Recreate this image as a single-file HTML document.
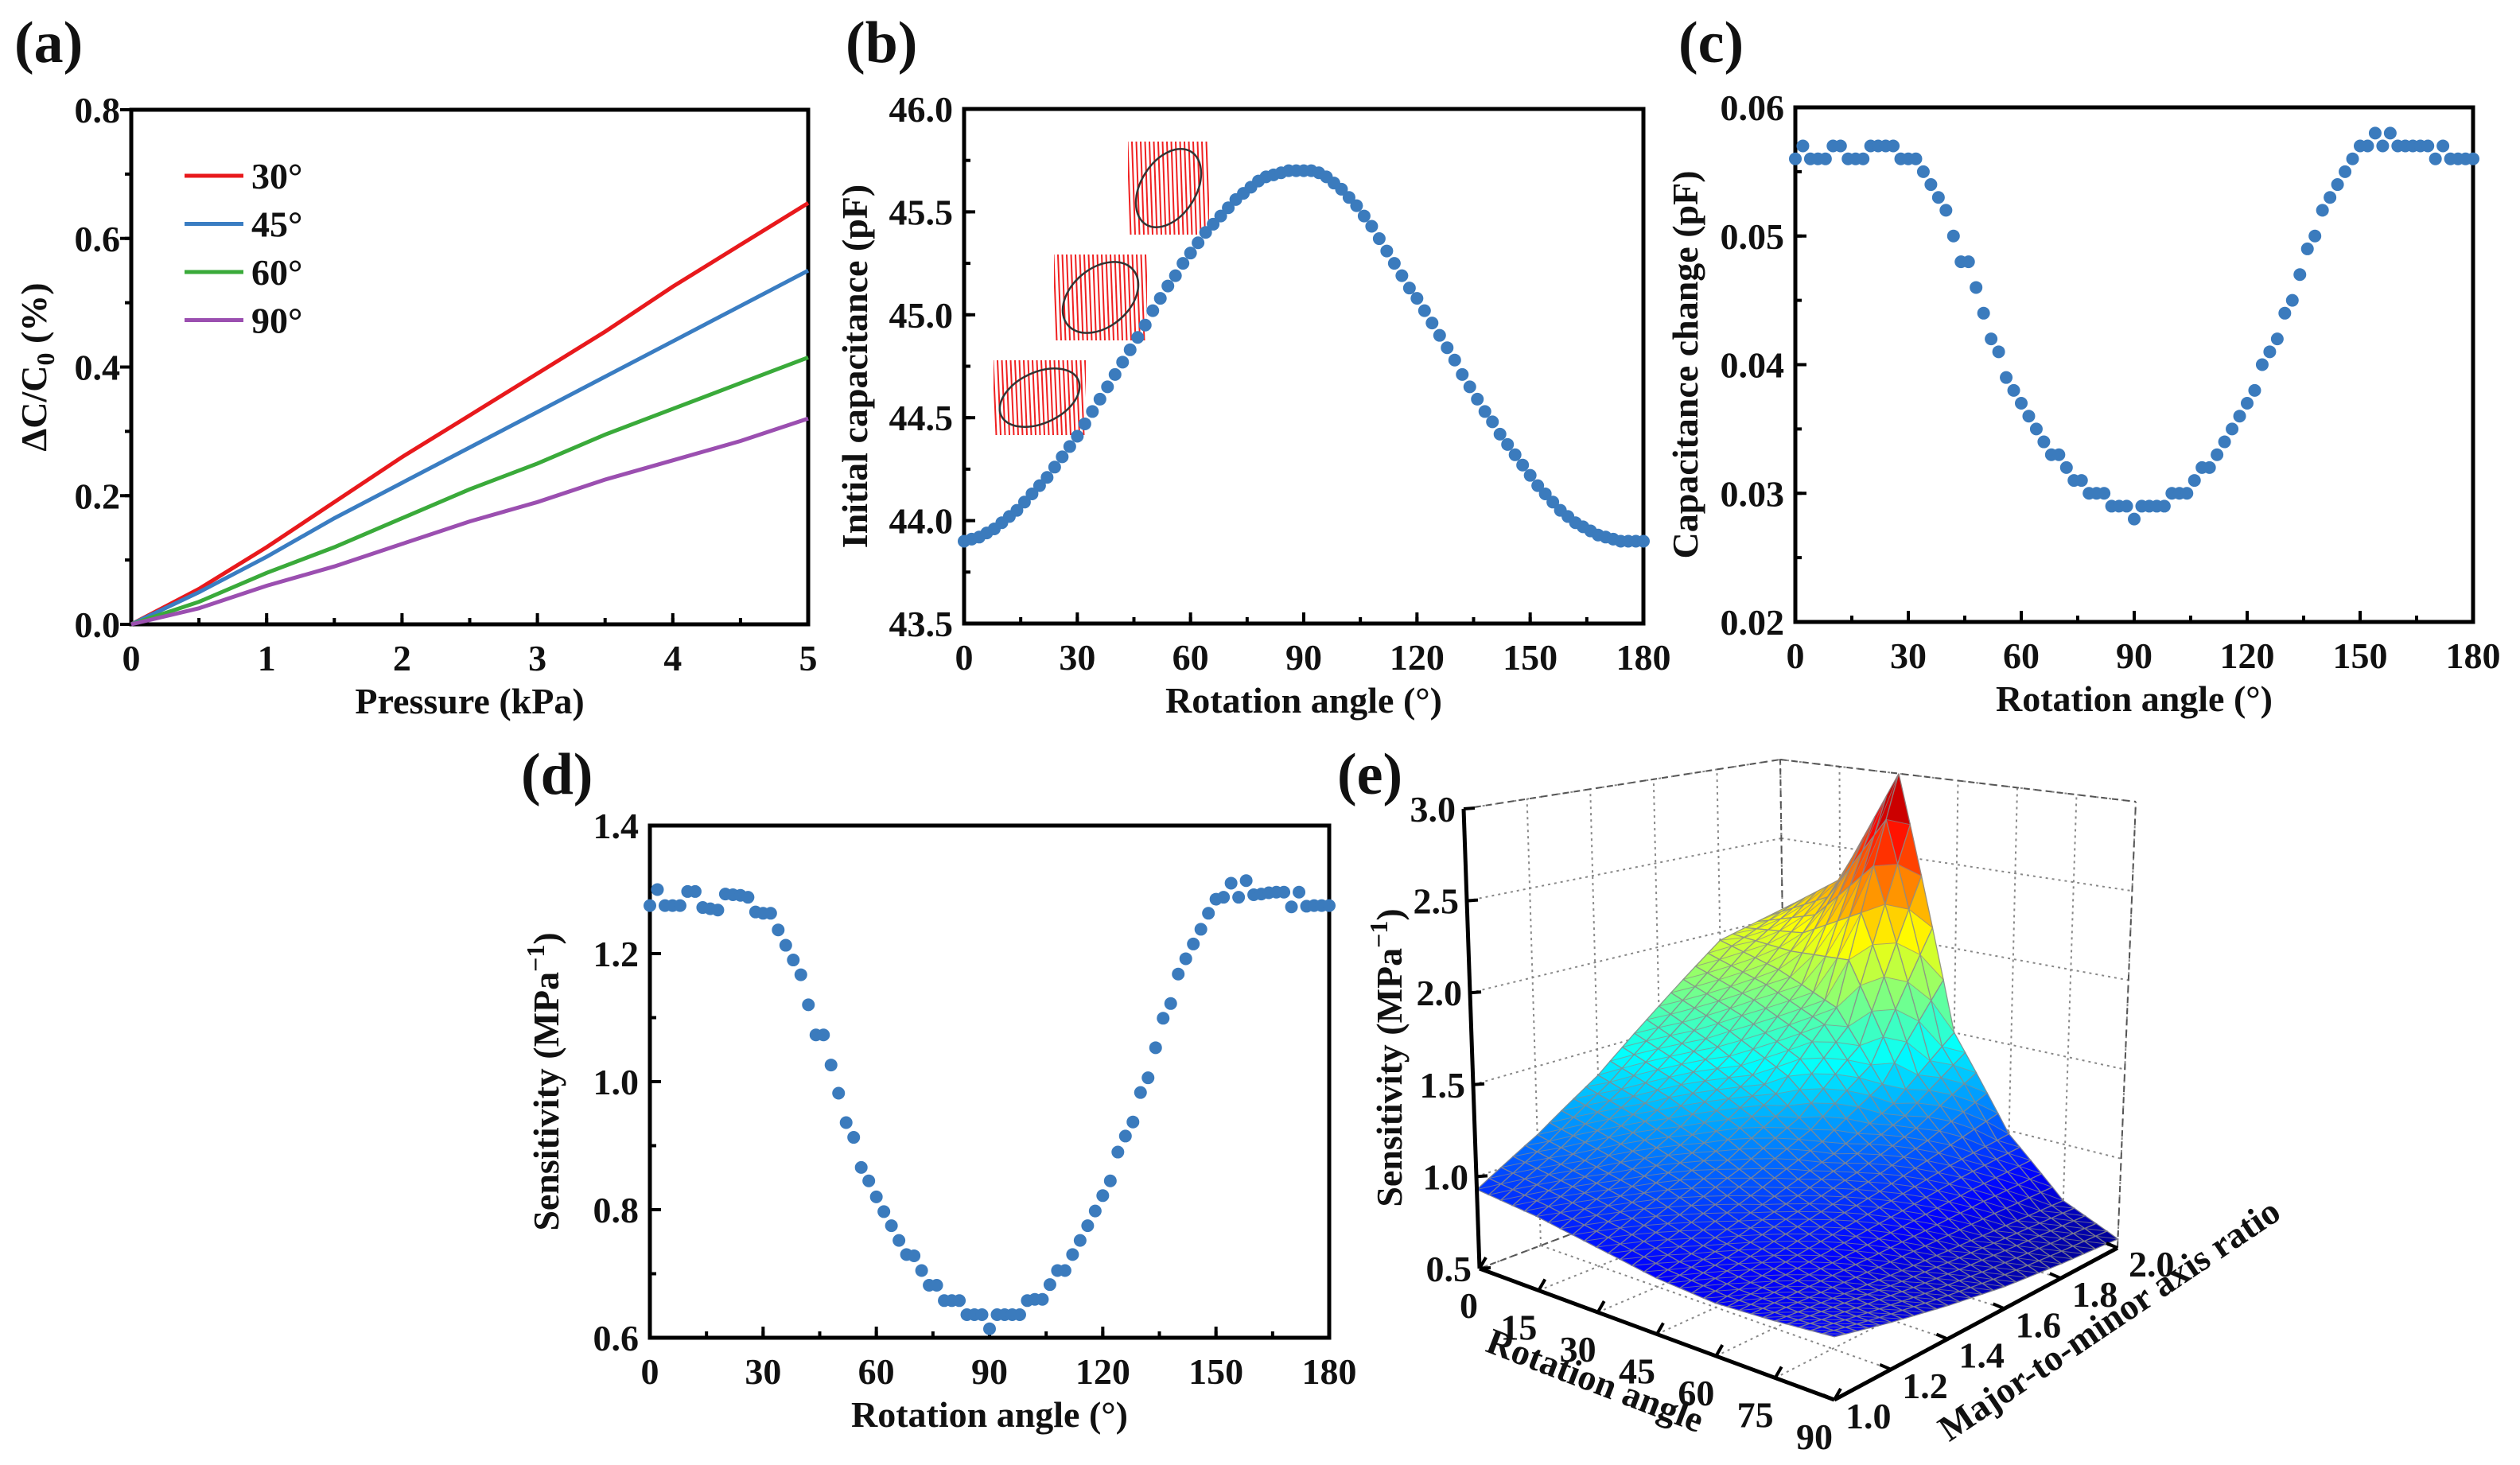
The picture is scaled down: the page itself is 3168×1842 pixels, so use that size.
<!DOCTYPE html>
<html><head><meta charset="utf-8"><style>
html,body{margin:0;padding:0;background:#fff;}
svg{display:block;font-family:"Liberation Serif",serif;font-weight:bold;}
</style></head><body>
<svg id="fig" xmlns="http://www.w3.org/2000/svg" width="3168" height="1842" viewBox="0 0 3168 1842">
<rect width="3168" height="1842" fill="#fff"/>
<defs>
<clipPath id="ci1"><rect x="1249" y="453" width="116" height="94"/></clipPath>
<clipPath id="ci2"><rect x="1325" y="320" width="117" height="108"/></clipPath>
<clipPath id="ci3"><rect x="1418" y="178" width="102" height="117"/></clipPath>
</defs>
</svg>
<script>
// ---------- data ----------
const pressureKPa = [0,0.5,1,1.5,2,2.5,3,3.5,4,4.5,5];
const dc30 = [0,0.055,0.12,0.19,0.26,0.325,0.39,0.455,0.525,0.59,0.655];
const dc45 = [0,0.05,0.105,0.165,0.22,0.275,0.33,0.385,0.44,0.495,0.55];
const dc60 = [0,0.035,0.08,0.12,0.165,0.21,0.25,0.295,0.335,0.375,0.415];
const dc90 = [0,0.025,0.06,0.09,0.125,0.16,0.19,0.225,0.255,0.285,0.32];
const legendLabels = ["30°","45°","60°","90°"];

const anglesDeg = [0,2,4,6,8,10,12,14,16,18,20,22,24,26,28,30,32,34,36,38,40,42,44,46,48,50,52,54,56,58,60,62,64,66,68,70,72,74,76,78,80,82,84,86,88,90,92,94,96,98,100,102,104,106,108,110,112,114,116,118,120,122,124,126,128,130,132,134,136,138,140,142,144,146,148,150,152,154,156,158,160,162,164,166,168,170,172,174,176,178,180];
const initCap = [43.9,43.91,43.92,43.94,43.96,43.99,44.02,44.05,44.09,44.13,44.17,44.21,44.26,44.31,44.36,44.41,44.47,44.53,44.59,44.65,44.71,44.77,44.83,44.89,44.95,45.02,45.08,45.14,45.19,45.25,45.30,45.35,45.40,45.44,45.48,45.52,45.56,45.59,45.62,45.65,45.67,45.68,45.69,45.70,45.70,45.70,45.70,45.69,45.67,45.64,45.61,45.57,45.53,45.48,45.43,45.37,45.31,45.25,45.19,45.13,45.08,45.02,44.96,44.90,44.84,44.78,44.71,44.65,44.59,44.53,44.48,44.42,44.37,44.32,44.27,44.22,44.17,44.13,44.09,44.05,44.02,43.99,43.97,43.95,43.93,43.92,43.91,43.90,43.90,43.90,43.90];
const capChange = [0.056,0.057,0.056,0.056,0.056,0.057,0.057,0.056,0.056,0.056,0.057,0.057,0.057,0.057,0.056,0.056,0.056,0.055,0.054,0.053,0.052,0.050,0.048,0.048,0.046,0.044,0.042,0.041,0.039,0.038,0.037,0.036,0.035,0.034,0.033,0.033,0.032,0.031,0.031,0.030,0.030,0.030,0.029,0.029,0.029,0.028,0.029,0.029,0.029,0.029,0.030,0.030,0.030,0.031,0.032,0.032,0.033,0.034,0.035,0.036,0.037,0.038,0.040,0.041,0.042,0.044,0.045,0.047,0.049,0.050,0.052,0.053,0.054,0.055,0.056,0.057,0.057,0.058,0.057,0.058,0.057,0.057,0.057,0.057,0.057,0.056,0.057,0.056,0.056,0.056,0.056];
const sensitivity = [1.275,1.30,1.275,1.275,1.275,1.297,1.297,1.272,1.27,1.268,1.293,1.292,1.291,1.288,1.265,1.263,1.263,1.237,1.213,1.19,1.167,1.12,1.073,1.073,1.026,0.982,0.936,0.913,0.866,0.845,0.82,0.797,0.775,0.752,0.73,0.728,0.705,0.682,0.682,0.658,0.658,0.658,0.636,0.636,0.636,0.614,0.636,0.636,0.636,0.636,0.658,0.66,0.66,0.683,0.705,0.705,0.73,0.752,0.775,0.798,0.822,0.845,0.89,0.915,0.937,0.983,1.006,1.053,1.099,1.122,1.168,1.192,1.215,1.238,1.263,1.285,1.288,1.31,1.288,1.314,1.292,1.293,1.295,1.296,1.296,1.273,1.296,1.274,1.275,1.275,1.275];

const surfAngles = [0,15,30,45,60,75,90];
const surfRatios = [1.0,1.2,1.4,1.6,1.8,2.0];
const surfA0  = [0.93,1.12,1.35,1.65,1.95,2.05];
const surfA15 = [0.9,1.05,1.25,1.5,1.85,2.3];
const surfA30 = [0.85,0.98,1.12,1.32,1.7,3.0];
const surfA45 = [0.8,0.88,0.97,1.07,1.22,1.5];
const surfA60 = [0.78,0.82,0.86,0.9,0.95,0.98];
const surfA75 = [0.8,0.77,0.74,0.72,0.7,0.68];
const surfA90 = [0.83,0.75,0.68,0.62,0.58,0.55];
const surfZ = [surfA0,surfA15,surfA30,surfA45,surfA60,surfA75,surfA90];

const angleTicks = [0,30,60,90,120,150,180];
const zTicks = [0.5,1.0,1.5,2.0,2.5,3.0];
const angle3dTicks = [0,15,30,45,60,75,90];
const ratioTicks = [1.0,1.2,1.4,1.6,1.8,2.0];

// ---------- helpers ----------
const NS="http://www.w3.org/2000/svg";
const svg=document.getElementById('fig');
function mk(tag,attrs,parent){const e=document.createElementNS(NS,tag);for(const k in attrs)e.setAttribute(k,attrs[k]);(parent||svg).appendChild(e);return e;}
function txt(s,x,y,size,anchor,parent,rot){const t=mk('text',{x:x,y:y,'font-size':size,'text-anchor':anchor||'middle',fill:'#111'},parent);if(rot!==undefined)t.setAttribute('transform','rotate('+rot+' '+x+' '+y+')');t.textContent=s;return t;}
function fmt(v,d){return v.toFixed(d);}
const FS=46, BLUE='#3b7bbd';

function panel(name,cfg){
  const g=mk('g',{});
  
  
  const sx=v=>cfg.L+(v-cfg.x0)/(cfg.x1-cfg.x0)*(cfg.R-cfg.L);
  const sy=v=>cfg.B-(v-cfg.y0)/(cfg.y1-cfg.y0)*(cfg.B-cfg.T);
  const dirY = cfg.yOut? -1 : 1;
  cfg.xt.forEach(v=>{
    const l=mk('line',{x1:sx(v),x2:sx(v),y1:cfg.B,y2:cfg.B-14,stroke:'#000','stroke-width':4},g);
    
    
    const t=txt(fmt(v,cfg.xd),sx(v),cfg.B+58,FS,'middle',g);
    
    
  });
  for(let v=cfg.x0+cfg.xm; v<cfg.x1-1e-9; v+=cfg.xm){
    mk('line',{x1:sx(v),x2:sx(v),y1:cfg.B,y2:cfg.B-8,stroke:'#000','stroke-width':4},g);
  }
  cfg.yt.forEach(v=>{
    const l=mk('line',{x1:cfg.L,x2:cfg.L+14*dirY,y1:sy(v),y2:sy(v),stroke:'#000','stroke-width':4},g);
    
    
    const t=txt(fmt(v,cfg.yd),cfg.L-14,sy(v)+16,FS,'end',g);
    
    
  });
  for(let v=cfg.y0+cfg.ym; v<cfg.y1-1e-9; v+=cfg.ym){
    mk('line',{x1:cfg.L,x2:cfg.L+8*dirY,y1:sy(v),y2:sy(v),stroke:'#000','stroke-width':4},g);
  }
  const fr=mk('rect',{x:cfg.L,y:cfg.T,width:cfg.R-cfg.L,height:cfg.B-cfg.T,fill:'none',stroke:'#000','stroke-width':5},g);
  
  
  const xt=txt(cfg.xtitle,(cfg.L+cfg.R)/2,cfg.B+112,FS,'middle',g);
  
  
  const yt=mk('text',{x:0,y:0,'font-size':FS,'text-anchor':'middle',fill:'#111',transform:'translate('+cfg.ytx+' '+((cfg.T+cfg.B)/2)+') rotate(-90)'},g);
  
  
  yt.innerHTML=cfg.ytitle;
  const pl=txt(cfg.label,cfg.lx,cfg.ly,74,'start',g);
  
  
  return {g,sx,sy};
}
function scatter(p,xs,ys,name){
  xs.forEach((x,i)=>{
    const c=mk('circle',{cx:p.sx(x),cy:p.sy(ys[i]),r:8,fill:BLUE},p.g);
    
    
  });
}

// ---------- panel a ----------
const pa=panel('panel-a',{L:165,R:1016,T:138,B:785,x0:0,x1:5,y0:0,y1:0.8,xt:[0,1,2,3,4,5],xd:0,xm:0.5,yt:[0,0.2,0.4,0.6,0.8],yd:1,ym:0.1,yOut:true,
  xtitle:'Pressure (kPa)',ytitle:'ΔC/C<tspan font-size="32" dy="10">0</tspan><tspan dy="-10"> (%)</tspan>',ytx:58,label:'(a)',lx:18,ly:78});
const seriesA=[dc30,dc45,dc60,dc90], colorsA=['#e8191c','#3a7dc2','#3aaa3a','#9b4fb0'];
seriesA.forEach((s,k)=>{
  const d=s.map((v,i)=>(i?'L':'M')+pa.sx(pressureKPa[i]).toFixed(1)+' '+pa.sy(v).toFixed(1)).join(' ');
  const p=mk('path',{d:d,fill:'none',stroke:colorsA[k],'stroke-width':5},pa.g);
  
  
  const ly=221+k*60.5;
  const ll=mk('line',{x1:232,x2:306,y1:ly,y2:ly,stroke:colorsA[k],'stroke-width':5},pa.g);
  
  
  const lt=txt(legendLabels[k],316,ly+16,FS,'start',pa.g);
  
  
});

// ---------- panel b ----------
const pb=panel('panel-b',{L:1212,R:2066,T:137,B:784,x0:0,x1:180,y0:43.5,y1:46,xt:angleTicks,xd:0,xm:15,yt:[43.5,44,44.5,45,45.5,46],yd:1,ym:0.25,
  xtitle:'Rotation angle (°)',ytitle:'Initial capacitance (pF)',ytx:1090,label:'(b)',lx:1063,ly:78});
[[1,1249,453,116,94,-25],[2,1325,320,117,108,-40],[3,1418,178,102,117,-58]].forEach(a=>{
  const g=mk('g',{'clip-path':'url(#ci'+a[0]+')'},pb.g);
  
  
  for(let x=a[1]-6;x<a[1]+a[3]+6;x+=5.5){
    mk('line',{x1:x,x2:x+4,y1:a[2],y2:a[2]+a[4],stroke:'#f02020','stroke-width':2},g);
  }
  const cx=a[1]+a[3]/2, cy=a[2]+a[4]/2;
  const big=Math.max(a[3],a[4]), sm=Math.min(a[3],a[4]);
  mk('ellipse',{cx:cx,cy:cy,rx:big*0.46,ry:sm*0.34,fill:'none',stroke:'#333','stroke-width':2.5,transform:'rotate('+a[5]+' '+cx+' '+cy+')'},g);
});
scatter(pb,anglesDeg,initCap,'capacitance-point');

// ---------- panel c ----------
const pc=panel('panel-c',{L:2257,R:3109,T:135,B:782,x0:0,x1:180,y0:0.02,y1:0.06,xt:angleTicks,xd:0,xm:15,yt:[0.02,0.03,0.04,0.05,0.06],yd:2,ym:0.005,
  xtitle:'Rotation angle (°)',ytitle:'Capacitance change (pF)',ytx:2134,label:'(c)',lx:2110,ly:78});
scatter(pc,anglesDeg,capChange,'capacitance-change-point');

// ---------- panel d ----------
const pd=panel('panel-d',{L:817,R:1671,T:1038,B:1682,x0:0,x1:180,y0:0.6,y1:1.4,xt:angleTicks,xd:0,xm:15,yt:[0.6,0.8,1.0,1.2,1.4],yd:1,ym:0.1,
  xtitle:'Rotation angle (°)',ytitle:'Sensitivity (MPa<tspan font-size="32" dy="-18">−1</tspan><tspan dy="18">)</tspan>',ytx:702,label:'(d)',lx:655,ly:998});
scatter(pd,anglesDeg,sensitivity,'sensitivity-point');

// ---------- panel e (3D surface) ----------
const ge=mk('g',{});


const P00=[1860,1595],P10=[2306,1760],P11=[2662,1569],P01=[2245,1450];
const Z00=[-20,-578],Z10=[0,-600],Z11=[23,-561],Z01=[-7,-495];
function bil(A,B,C,D,u,v){return [(1-u)*(1-v)*A[0]+u*(1-v)*B[0]+u*v*C[0]+(1-u)*v*D[0],(1-u)*(1-v)*A[1]+u*(1-v)*B[1]+u*v*C[1]+(1-u)*v*D[1]];}
function proj(a,r,z){const u=a/90,v=(r-1)/1;const b=bil(P00,P10,P11,P01,u,v),zz=bil(Z00,Z10,Z11,Z01,u,v);const f=(z-0.5)/2.5;return [b[0]+zz[0]*f,b[1]+zz[1]*f];}
function line3(p,q,attrs,name){const l=mk('line',Object.assign({x1:p[0],y1:p[1],x2:q[0],y2:q[1]},attrs),ge);return l;}
const dash={stroke:'#555','stroke-width':2,'stroke-dasharray':'8 6',fill:'none'};
const dot={stroke:'#888','stroke-width':2,'stroke-dasharray':'3 5',fill:'none'};
zTicks.forEach(z=>{line3(proj(0,1,z),proj(0,2,z),dot,'grid-line');line3(proj(0,2,z),proj(90,2,z),dot,'grid-line');});
angle3dTicks.forEach(a=>{line3(proj(a,2,0.5),proj(a,2,3),dot,'grid-line');line3(proj(a,1,0.5),proj(a,2,0.5),dot,'grid-line');});
ratioTicks.forEach(r=>{line3(proj(0,r,0.5),proj(0,r,3),dot,'grid-line');line3(proj(0,r,0.5),proj(90,r,0.5),dot,'grid-line');});
line3(proj(0,1,3),proj(0,2,3),dash,'box-edge');
line3(proj(0,2,3),proj(90,2,3),dash,'box-edge');
line3(proj(0,2,0.5),proj(0,2,3),dash,'box-edge');
line3(proj(90,2,0.5),proj(90,2,3),dash,'box-edge');
line3(proj(0,1,0.5),proj(0,2,0.5),dash,'box-edge');
line3(proj(0,2,0.5),proj(90,2,0.5),dash,'box-edge');
function jet(z){const t=Math.max(0,Math.min(1,(z-0.5)/2.5));const c=x=>Math.round(255*Math.max(0,Math.min(1,1.5-Math.abs(4*t-x))));return 'rgb('+c(3)+','+c(2)+','+c(1)+')';}
function zAt(a,r){
  let i=0;while(i<surfAngles.length-2&&a>surfAngles[i+1])i++;
  let j=0;while(j<surfRatios.length-2&&r>surfRatios[j+1])j++;
  const u=(a-surfAngles[i])/(surfAngles[i+1]-surfAngles[i]),v=(r-surfRatios[j])/(surfRatios[j+1]-surfRatios[j]);
  return (1-u)*(1-v)*surfZ[i][j]+u*(1-v)*surfZ[i+1][j]+u*v*surfZ[i+1][j+1]+(1-u)*v*surfZ[i][j+1];
}
const SUB=5, quads=[];
const NA=(surfAngles.length-1)*SUB, NR=(surfRatios.length-1)*SUB;
for(let i=0;i<NA;i++)for(let j=0;j<NR;j++){
  const a0=90*i/NA,a1=90*(i+1)/NA,r0=1+j/NR,r1=1+(j+1)/NR;
  quads.push({a0,a1,r0,r1,d:(j+0.5)/NR-(i+0.5)/NA});
}
quads.sort((p,q)=>q.d-p.d);
const gs=mk('g',{},ge);


quads.forEach(q=>{
  const c=[[q.a0,q.r0],[q.a1,q.r0],[q.a1,q.r1],[q.a0,q.r1]].map(p=>({p:proj(p[0],p[1],zAt(p[0],p[1])),z:zAt(p[0],p[1])}));
  [[0,1,2],[0,2,3]].forEach(tr=>{
    const zm=(c[tr[0]].z+c[tr[1]].z+c[tr[2]].z)/3;
    const pts=tr.map(k=>c[k].p[0].toFixed(1)+','+c[k].p[1].toFixed(1)).join(' ');
    const pg=mk('polygon',{points:pts,fill:jet(zm),stroke:jet(zm),'stroke-width':0.8},gs);
    
    
  });
  const pts=c.map(k=>k.p[0].toFixed(1)+','+k.p[1].toFixed(1)).join(' ');
  mk('polygon',{points:pts,fill:'none',stroke:'#8a8a8a','stroke-width':1.3,'stroke-opacity':0.85},gs);
  mk('line',{x1:c[0].p[0],y1:c[0].p[1],x2:c[2].p[0],y2:c[2].p[1],stroke:'#8a8a8a','stroke-width':1,'stroke-opacity':0.7},gs);
});
const solid={stroke:'#000','stroke-width':5};
line3(proj(0,1,0.5),proj(0,1,3),solid,'z-axis');
line3(proj(0,1,0.5),proj(90,1,0.5),solid,'angle-axis');
line3(proj(90,1,0.5),proj(90,2,0.5),solid,'ratio-axis');
zTicks.forEach(z=>{const p=proj(0,1,z);line3(p,[p[0]+14,p[1]-1],{stroke:'#000','stroke-width':4},'z-tick');
  const t=txt(z.toFixed(1),p[0]-10,p[1]+16,FS,'end',ge);});
angle3dTicks.forEach(a=>{const p=proj(a,1,0.5);line3(p,[p[0]+8,p[1]-14],{stroke:'#000','stroke-width':4},'angle-tick');
  const t=txt(String(a),p[0]-2,p[1]+62,FS,'end',ge);});
ratioTicks.forEach(r=>{const p=proj(90,r,0.5);line3(p,[p[0]-14,p[1]-6],{stroke:'#000','stroke-width':4},'ratio-tick');
  const t=txt(r.toFixed(1),p[0]+14,p[1]+36,FS,'start',ge);});
const at=txt('Rotation angle',2000,1750,FS,'middle',ge,21);


const rt=txt('Major-to-minor axis ratio',2660,1672,FS,'middle',ge,-34);


const zt=mk('text',{x:0,y:0,'font-size':FS,'text-anchor':'middle',fill:'#111',transform:'translate(1762 1330) rotate(-90)'},ge);


zt.innerHTML='Sensitivity (MPa<tspan font-size="32" dy="-18">−1</tspan><tspan dy="18">)</tspan>';
const el=txt('(e)',1681,998,74,'start',ge);


</script>
</body></html>
